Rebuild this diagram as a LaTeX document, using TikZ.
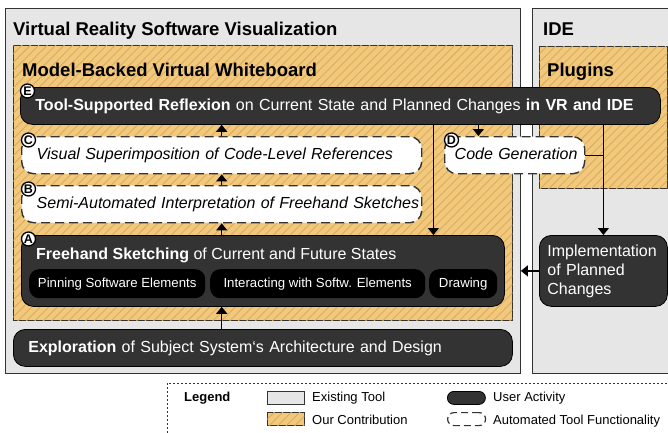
\documentclass[tikz,border=0pt]{standalone}
\usepackage{fontspec}
\setmainfont{Liberation Sans}
\usetikzlibrary{arrows.meta,patterns.meta}

\definecolor{toolgray}{HTML}{E6E6E6}
\definecolor{edgegray}{HTML}{333333}
\definecolor{contrib}{HTML}{F2C97C}
\definecolor{hatch}{HTML}{D9AC5E}
\definecolor{actfill}{HTML}{333333}

\begin{document}
\begin{tikzpicture}[x=1pt,y=-1pt,
  box/.style={rectangle, anchor=north west, inner sep=0pt},
  toolbox/.style={box, draw=edgegray, line width=0.9pt, fill=toolgray},
  contribbox/.style={box, draw=edgegray, line width=0.9pt, fill=contrib,
    postaction={pattern={Lines[angle=45,distance=6pt,line width=0.9pt]}, pattern color=hatch}},
  title/.style={anchor=base west, inner sep=0pt, font=\fontsize{18.5}{22}\selectfont\bfseries},
  mainfont/.style={font=\fontsize{16}{19}\selectfont},
  oneline/.style={text height=12pt, text depth=3.5pt},
  activity/.style={box, rounded corners=12pt, draw=black, line width=0.8pt, fill=actfill,
    text=white, mainfont, inner xsep=15pt, align=left},
  automated/.style={box, rounded corners=12pt, draw=edgegray, line width=1.4pt,
    dash pattern=on 9pt off 5pt, fill=white, inner xsep=15pt, align=left,
    font=\fontsize{16}{19}\selectfont\itshape},
  subact/.style={box, rounded corners=10pt, fill=black, text=white, minimum height=29pt,
    font=\fontsize{13.2}{15}\selectfont},
  letter/.style={circle, draw=black, line width=1.3pt, fill=white, text=black,
    minimum size=14pt, inner sep=0pt, font=\fontsize{12.5}{12.5}\selectfont\bfseries,
    anchor=center, xshift=7.5pt, yshift=-4pt},
  arr/.style={line width=1.4pt, draw=black, -{Triangle[width=11pt,length=7pt]}},
  link/.style={line width=1.4pt, draw=black},
  legendtext/.style={anchor=base west, inner sep=0pt, font=\fontsize{13}{15}\selectfont},
]
\useasboundingbox (0,0) rectangle (668,432);

% tool containers
\node[toolbox, minimum width=515pt, minimum height=365pt] (vr) at (5,8) {};
\node[toolbox, minimum width=140pt, minimum height=365pt] (ide) at (532,8) {};
\node[contribbox, minimum width=499pt, minimum height=275pt] (wb) at (13,45) {};
\node[contribbox, minimum width=128pt, minimum height=142pt] (plug) at (539,46) {};

\node[title] (vrtitle) at (13,35) {Virtual Reality Software Visualization};
\node[title] (idetitle) at (543,35) {IDE};
\node[title] (wbtitle) at (22,76.5) {Model-Backed Virtual Whiteboard};
\node[title] (plugtitle) at (547,76.5) {Plugins};

% activities and automated functionality
\node[activity, oneline, text width=610pt, minimum height=37pt,
  label={[letter]north west:E}] (E) at (20,87)
  {\textbf{Tool-Supported Reflexion} on Current State and Planned Changes \textbf{in VR and IDE}};
\node[automated, oneline, text width=370pt, minimum height=37pt,
  label={[letter]north west:C}] (C) at (21,136)
  {\mbox{Visual Superimposition of Code-Level References}};
\node[automated, oneline, text width=370pt, minimum height=37pt,
  label={[letter]north west:B}] (B) at (21,185)
  {\mbox{Semi-Automated Interpretation of Freehand Sketches}};
\node[automated, oneline, inner xsep=10pt, text width=120pt, minimum height=37pt,
  label={[letter]north west:D}] (D) at (444,136)
  {\mbox{Code Generation}};
\node[activity, text width=453pt, minimum height=71pt,
  label={[letter]north west:A}] (A) at (21,235) {};
\node[anchor=base west, inner sep=0pt, text=white, mainfont] (Atitle) at (36,259)
  {\textbf{Freehand Sketching} of Current and Future States};
\node[subact, minimum width=176pt] (pin) at (29,269) {Pinning Software Elements};
\node[subact, minimum width=215pt] (interact) at (210,269) {Interacting with Softw. Elements};
\node[subact, minimum width=68pt] (draw) at (429,269) {Drawing};
\node[activity, oneline, text width=469pt, minimum height=37pt] (X) at (13,329)
  {\textbf{Exploration} of Subject System‘s Architecture and Design};
\node[activity, inner xsep=8pt, text width=112pt, minimum height=71pt] (impl) at (539,235)
  {Implementation\\of Planned\\Changes};

% flow
\draw[arr] (B.south |- A.north) -- (B.south);
\draw[arr] (B.north) -- (B.north |- C.south);
\draw[arr] (C.north) -- (C.north |- E.south);
\draw[arr] (B.south |- X.north) -- (B.south |- A.south);
\draw[arr] ([xshift=93pt]E.south) -- ([xshift=93pt]E.south |- A.north);
\draw[arr] ([xshift=138pt]E.south) -- ([xshift=138pt]E.south |- D.north);
\draw[arr] (impl.north |- E.south) -- (impl.north);
\draw[link] (D.east) -- (D.east -| impl.north);
\draw[arr] (impl.west) -- (impl.west -| vr.east);

% legend
\draw[edgegray, line width=0.8pt, dash pattern=on 2pt off 2pt] (167,383) rectangle (672,440);
\node[legendtext, font=\fontsize{13}{15}\selectfont\bfseries] (legend) at (184,401.5) {Legend};
\node[toolbox, minimum width=37pt, minimum height=13pt] (swtool) at (267,391) {};
\node[legendtext] (lgtool) at (312,401.5) {Existing Tool};
\node[contribbox, minimum width=37pt, minimum height=13pt] (swcontrib) at (267,412) {};
\node[legendtext] (lgcontrib) at (312,424.5) {Our Contribution};
\node[box, rounded corners=6.5pt, draw=black, line width=0.8pt, fill=actfill,
  minimum width=38pt, minimum height=13pt] (swact) at (447,391) {};
\node[legendtext] (lgact) at (493,401.5) {User Activity};
\node[box, rounded corners=6.5pt, draw=edgegray, line width=1.2pt, dash pattern=on 7pt off 4pt,
  fill=white, minimum width=38pt, minimum height=13pt] (swauto) at (447,412) {};
\node[legendtext] (lgauto) at (493,424.5) {Automated Tool Functionality};
\end{tikzpicture}
\end{document}
